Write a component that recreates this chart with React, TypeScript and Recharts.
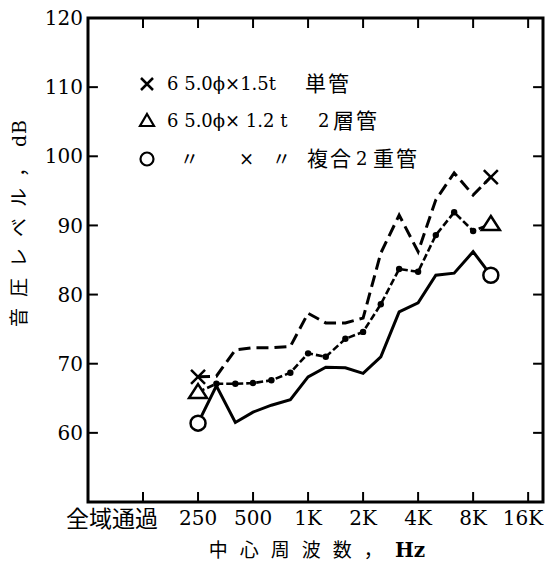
import { Line, LineChart, ReferenceArea, ReferenceLine, XAxis, YAxis } from "recharts"

// 1/3 octave band centres, Hz
const bandHz = [250, 315, 400, 500, 630, 800, 1000, 1250, 1600, 2000, 2500, 3150, 4000, 5000, 6300, 8000, 10000]

// 音圧レベル dB
const singlePipe = [68.1, 68.2, 72.0, 72.3, 72.3, 72.5, 77.3, 75.9, 75.9, 76.6, 86.0, 91.5, 86.2, 93.7, 97.6, 94.4, 97.0]
const twoLayerPipe = [65.9, 67.1, 67.1, 67.2, 67.6, 68.7, 71.5, 71.0, 73.6, 74.6, 78.6, 83.7, 83.3, 88.6, 91.9, 89.2, 90.2]
const compositePipe = [61.4, 66.8, 61.5, 63.0, 64.0, 64.8, 68.1, 69.5, 69.4, 68.6, 71.0, 77.5, 78.8, 82.8, 83.1, 86.2, 82.8]

const xTickHz = [125, 250, 500, 1000, 2000, 4000, 8000, 16000]
const xTickLabels = ["全域通過", "250", "500", "1K", "2K", "4K", "8K", "16K"]
const yTicks = [50, 60, 70, 80, 90, 100, 110, 120]

const REF_HZ = 250
const oct = (hz: number) => Math.log2(hz / REF_HZ)

const data = bandHz.map((hz, i) => ({
  x: oct(hz),
  single: singlePipe[i],
  layer: twoLayerPipe[i],
  comp: compositePipe[i],
}))

const X_MIN = -2
const X_MAX = 6.27
const Y_MIN = 50
const Y_MAX = 120
// inward tick length (~10px) in data units
const TX = 0.18
const TY = 1.45

const serif = "'DejaVu Serif', 'Noto Sans CJK JP', serif"
const cjk = "'DejaVu Serif', 'Noto Sans CJK JP', sans-serif"
const lastIdx = bandHz.length - 1

function makeDot(kind: "cross" | "tri" | "circle") {
  return (props: any) => {
    const { cx, cy, index } = props
    const key = `${kind}-${index}`
    const isEnd = index === 0 || index === lastIdx
    if (!isEnd) {
      if (kind === "tri") return <circle key={key} cx={cx} cy={cy} r={3.2} fill="#000" />
      return <g key={key} />
    }
    if (kind === "cross") {
      const s = 7
      return (
        <path
          key={key}
          d={`M${cx - s},${cy - s}L${cx + s},${cy + s}M${cx + s},${cy - s}L${cx - s},${cy + s}`}
          stroke="#000"
          strokeWidth={2.5}
        />
      )
    }
    if (kind === "tri") {
      return (
        <path
          key={key}
          d={`M${cx},${cy - 8}L${cx + 9},${cy + 6}L${cx - 9},${cy + 6}Z`}
          fill="#fff"
          stroke="#000"
          strokeWidth={2.5}
        />
      )
    }
    return <circle key={key} cx={cx} cy={cy} r={7.5} fill="#fff" stroke="#000" strokeWidth={2.5} />
  }
}

function XTick(props: any) {
  const { x, y, index } = props
  const label = xTickLabels[index]
  const first = index === 0
  const last = index === xTickLabels.length - 1
  let tx = x
  let anchor = "middle"
  if (first) {
    tx = x + 15
    anchor = "end"
  } else if (last) {
    tx = x + 15
    anchor = "end"
  }
  return (
    <text
      x={tx}
      y={y}
      dy="0.71em"
      textAnchor={anchor}
      fontSize={first ? 23 : 20}
      fontFamily={first ? cjk : serif}
      fill="#000"
    >
      {label}
    </text>
  )
}

function LegendMark({ kind }: { kind: "cross" | "tri" | "circle" }) {
  return (
    <svg width={20} height={20} style={{ position: "absolute", left: -10, top: -10 }}>
      {kind === "cross" && <path d="M4,4L16,16M16,4L4,16" stroke="#000" strokeWidth={2.5} />}
      {kind === "tri" && <path d="M10,3L17,15L3,15Z" fill="none" stroke="#000" strokeWidth={2.2} />}
      {kind === "circle" && <circle cx={10} cy={10} r={6.5} fill="none" stroke="#000" strokeWidth={2.2} />}
    </svg>
  )
}

function Txt({ x, y, size = 18, children, family = cjk, spacing = 0 }: any) {
  return (
    <span
      style={{
        position: "absolute",
        left: x,
        top: y,
        transform: "translateY(-50%)",
        fontSize: size,
        fontFamily: family,
        letterSpacing: spacing,
        whiteSpace: "pre",
        lineHeight: 1,
        color: "#000",
      }}
    >
      {children}
    </span>
  )
}

export default function App() {
  return (
    <div style={{ position: "absolute", left: 0, top: 0, width: 545, height: 567, background: "#fff" }}>
      <LineChart width={545} height={567} data={data} margin={{ top: 18, right: 2, bottom: 0, left: 0 }}>
        <XAxis
          dataKey="x"
          type="number"
          domain={[X_MIN, X_MAX]}
          ticks={xTickHz.map(oct)}
          allowDataOverflow
          height={65}
          axisLine={false}
          tickLine={false}
          tickSize={0}
          tickMargin={9}
          tick={<XTick />}
        />
        <YAxis
          type="number"
          domain={[Y_MIN, Y_MAX]}
          ticks={yTicks}
          width={88}
          axisLine={false}
          tickLine={false}
          tickSize={0}
          tickMargin={5}
          tickFormatter={(v) => (v === Y_MIN ? "" : String(v))}
          tick={{ fontSize: 20, fill: "#000", fontFamily: serif }}
        />
        <ReferenceArea
          x1={X_MIN}
          x2={X_MAX}
          y1={Y_MIN}
          y2={Y_MAX}
          fill="none"
          fillOpacity={0}
          stroke="#000"
          strokeWidth={3}
        />
        {xTickHz.map((hz) => (
          <ReferenceLine
            key={`xb-${hz}`}
            segment={[{ x: oct(hz), y: Y_MIN }, { x: oct(hz), y: Y_MIN + TY }]}
            stroke="#000"
            strokeWidth={2}
          />
        ))}
        {xTickHz.map((hz) => (
          <ReferenceLine
            key={`xt-${hz}`}
            segment={[{ x: oct(hz), y: Y_MAX }, { x: oct(hz), y: Y_MAX - TY }]}
            stroke="#000"
            strokeWidth={2}
          />
        ))}
        {yTicks.slice(1, -1).map((v) => (
          <ReferenceLine
            key={`yl-${v}`}
            segment={[{ x: X_MIN, y: v }, { x: X_MIN + TX, y: v }]}
            stroke="#000"
            strokeWidth={2}
          />
        ))}
        {yTicks.slice(1, -1).map((v) => (
          <ReferenceLine
            key={`yr-${v}`}
            segment={[{ x: X_MAX, y: v }, { x: X_MAX - TX, y: v }]}
            stroke="#000"
            strokeWidth={2}
          />
        ))}
        <Line
          dataKey="comp"
          stroke="#000"
          strokeWidth={3}
          dot={makeDot("circle")}
          activeDot={false}
          isAnimationActive={false}
        />
        <Line
          dataKey="layer"
          stroke="#000"
          strokeWidth={2.6}
          strokeDasharray="7 3"
          dot={makeDot("tri")}
          activeDot={false}
          isAnimationActive={false}
        />
        <Line
          dataKey="single"
          stroke="#000"
          strokeWidth={3}
          strokeDasharray="12 6"
          dot={makeDot("cross")}
          activeDot={false}
          isAnimationActive={false}
        />
      </LineChart>

      {/* legend */}
      <div style={{ position: "absolute", left: 147, top: 84 }}>
        <LegendMark kind="cross" />
      </div>
      <Txt x={167} y={84} family={serif} size={18}>6 5.0ϕ×1.5t</Txt>
      <Txt x={305} y={84} size={21} spacing={2}>単管</Txt>

      <div style={{ position: "absolute", left: 147, top: 121 }}>
        <LegendMark kind="tri" />
      </div>
      <Txt x={167} y={121} family={serif} size={18}>6 5.0ϕ× 1.2 t</Txt>
      <Txt x={318} y={121} family={serif} size={18}>2</Txt>
      <Txt x={333} y={121} size={21} spacing={2}>層管</Txt>

      <div style={{ position: "absolute", left: 147, top: 159 }}>
        <LegendMark kind="circle" />
      </div>
      <Txt x={180} y={159} size={19}>〃</Txt>
      <Txt x={239} y={159} family={serif} size={18}>×</Txt>
      <Txt x={272} y={159} size={19}>〃</Txt>
      <Txt x={307} y={159} size={21} spacing={2}>複合</Txt>
      <Txt x={356} y={159} family={serif} size={18}>2</Txt>
      <Txt x={373} y={159} size={21} spacing={2}>重管</Txt>

      {/* axis titles */}
      <div
        style={{
          position: "absolute",
          left: 19,
          top: 223,
          transform: "translate(-50%, -50%) rotate(-90deg)",
          whiteSpace: "nowrap",
          fontSize: 19,
          fontFamily: cjk,
          letterSpacing: 11,
          lineHeight: 1,
        }}
      >
        音圧レベル，<span style={{ fontFamily: serif, letterSpacing: 1 }}>dB</span>
      </div>
      <div
        style={{
          position: "absolute",
          left: 317,
          top: 550,
          transform: "translate(-50%, -50%)",
          whiteSpace: "nowrap",
          fontSize: 19,
          fontFamily: cjk,
          letterSpacing: 12,
          lineHeight: 1,
        }}
      >
        中心周波数，
        <span style={{ fontFamily: serif, fontWeight: "bold", letterSpacing: 0, fontSize: 20 }}>Hz</span>
      </div>
    </div>
  )
}
